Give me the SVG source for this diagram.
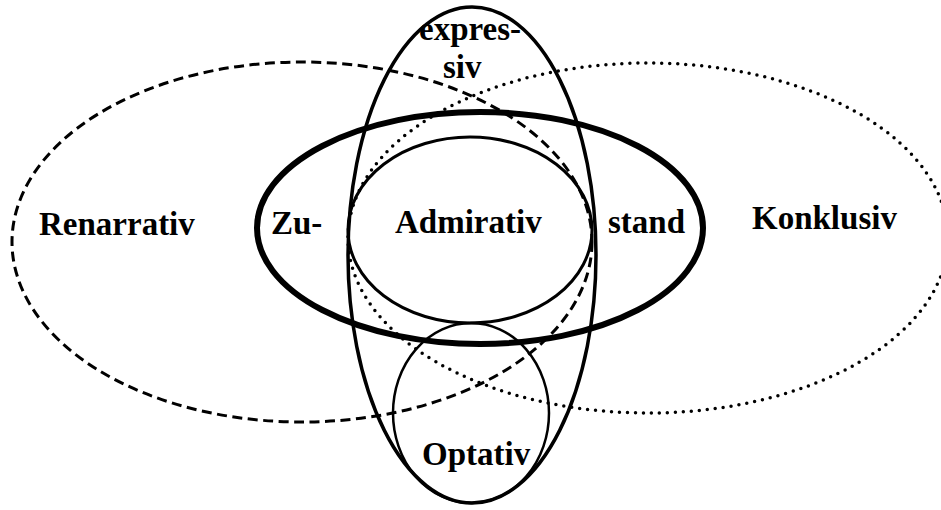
<svg xmlns="http://www.w3.org/2000/svg" width="941" height="510" viewBox="0 0 941 510">
<style>
.ln{fill:none;stroke:#000}
.dash{stroke-width:3;stroke-dasharray:10 5.5}
.dot{stroke-width:3.5;stroke-dasharray:0 8;stroke-linecap:round}
.t{font-family:"Liberation Serif","Times New Roman",serif;font-weight:bold;font-size:33px;fill:#000}
</style>
<rect width="941" height="510" fill="#fff"/>
<g id="renarrativ">
<ellipse class="ln dash" cx="302" cy="242" rx="290" ry="180"/>
<text class="t" x="39" y="235">Renarrativ</text>
</g>
<g id="konklusiv">
<ellipse class="ln dot" cx="648" cy="238" rx="300" ry="175"/>
<text class="t" x="752" y="229">Konklusiv</text>
</g>
<g id="expressiv">
<ellipse class="ln" stroke-width="3.5" cx="472" cy="255" rx="124" ry="248"/>
<text class="t" x="419" y="40">expres-</text>
<text class="t" x="443" y="78">siv</text>
</g>
<g id="zustand">
<ellipse class="ln" stroke-width="6" cx="480" cy="228" rx="223" ry="116"/>
<text class="t" x="271" y="234">Zu-</text>
<text class="t" x="608" y="233">stand</text>
</g>
<g id="admirativ">
<ellipse class="ln" stroke-width="3" cx="470" cy="230" rx="122" ry="93"/>
<text class="t" x="395" y="233">Admirativ</text>
</g>
<g id="optativ">
<ellipse class="ln" stroke-width="2.5" cx="471" cy="413" rx="78" ry="90"/>
<text class="t" x="422" y="465">Optativ</text>
</g>
</svg>
